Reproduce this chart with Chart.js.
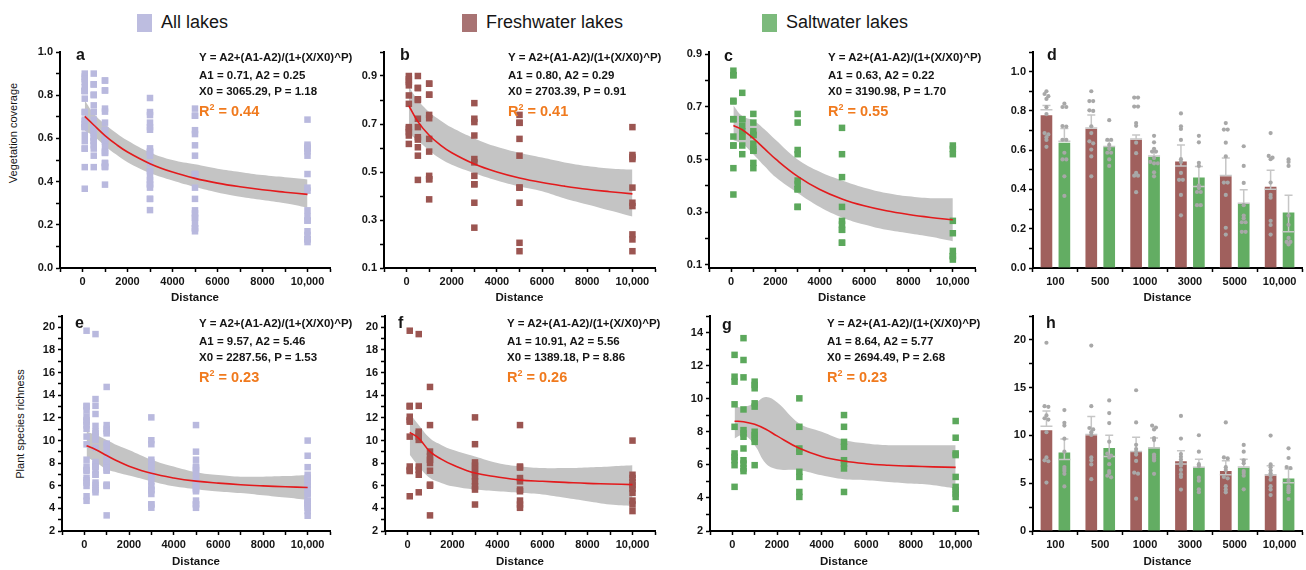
<!DOCTYPE html>
<html>
<head>
<meta charset="utf-8">
<script src="https://cdn.jsdelivr.net/npm/chart.js@4.4.1/dist/chart.umd.min.js"></script>
<style>
  body { margin: 0; width: 1306px; height: 570px; overflow: hidden; background: #fff; position: relative;
         font-family: "Liberation Sans", Arial, sans-serif; }
  canvas { position: absolute; }
  .t { position: absolute; white-space: nowrap; color: #151515; transform: translateY(-50%); line-height: 1.1; }
  .eq { font-size: 11.5px; font-weight: bold; }
  .r2 { font-size: 14.5px; font-weight: bold; color: #f07a1e; }
  .let { font-size: 16px; font-weight: bold; }
  .ytitle { position: absolute; white-space: nowrap; font-size: 11px; color: #151515;
            transform: translate(-50%, -50%) rotate(-90deg); }
  .leg { position: absolute; top: 13px; height: 19px; display: flex; align-items: center; font-size: 18px; color: #151515; }
  .leg i { display: inline-block; width: 15px; height: 18px; margin-right: 9px; }
</style>
</head>
<body>
<div class="leg" style="left:137px"><i style="background:#bdbde0"></i>All lakes</div>
<div class="leg" style="left:462px"><i style="background:#a87373"></i>Freshwater lakes</div>
<div class="leg" style="left:762px"><i style="background:#7cba7c"></i>Saltwater lakes</div>
<div class="ytitle" style="left:13px; top:133px">Vegetation coverage</div>
<div class="ytitle" style="left:20px; top:424px">Plant species richness</div>
<script>
// ---- data ----
const distances = [100, 500, 1000, 3000, 5000, 10000];
const distanceLabels = ['100', '500', '1000', '3000', '5000', '10,000'];

// vegetation coverage per lake, one list per distance
const freshCover = [
  [0.90, 0.886, 0.875, 0.861, 0.819, 0.784, 0.687, 0.680, 0.666, 0.652, 0.617],
  [0.90, 0.85, 0.85, 0.803, 0.80, 0.722, 0.687, 0.645, 0.635, 0.603, 0.568, 0.467],
  [0.868, 0.868, 0.822, 0.822, 0.738, 0.724, 0.638, 0.585, 0.484, 0.47, 0.47, 0.386],
  [0.787, 0.722, 0.708, 0.652, 0.554, 0.54, 0.484, 0.449, 0.449, 0.372, 0.268],
  [0.738, 0.705, 0.705, 0.638, 0.568, 0.435, 0.435, 0.372, 0.205, 0.170],
  [0.687, 0.571, 0.562, 0.554, 0.435, 0.372, 0.358, 0.24, 0.219, 0.17]
];
const saltCover = [
  [0.837, 0.82, 0.82, 0.723, 0.72, 0.653, 0.653, 0.587, 0.553, 0.553, 0.467, 0.367],
  [0.753, 0.653, 0.653, 0.627, 0.607, 0.587, 0.587, 0.553, 0.52],
  [0.673, 0.64, 0.607, 0.593, 0.593, 0.56, 0.54, 0.533, 0.533, 0.487, 0.467],
  [0.673, 0.64, 0.536, 0.52, 0.42, 0.407, 0.387, 0.387, 0.32, 0.32],
  [0.62, 0.52, 0.433, 0.32, 0.267, 0.253, 0.233, 0.233, 0.184, 0.184],
  [0.553, 0.54, 0.52, 0.267, 0.22, 0.153, 0.133, 0.133, 0.12]
];

// plant species richness per lake
const freshRich = [
  [19.7, 13.06, 13.0, 12.1, 11.8, 11.66, 10.34, 7.7, 7.4, 7.3, 5.07],
  [19.4, 13.06, 10.78, 10.63, 10.34, 10.05, 7.7, 7.4, 6.97, 5.42],
  [14.73, 11.36, 9.02, 8.58, 8.29, 8.0, 7.33, 6.1, 6.0, 3.38],
  [12.04, 9.67, 8.06, 7.77, 7.47, 7.18, 6.83, 6.39, 5.95, 5.66, 4.34],
  [11.36, 7.7, 7.6, 6.68, 6.39, 5.66, 5.51, 4.69, 4.34, 4.05],
  [9.99, 6.97, 6.68, 6.33, 6.04, 5.75, 5.37, 4.69, 4.34, 3.76]
];
const saltRich = [
  [12.65, 11.33, 11.03, 9.66, 8.30, 6.69, 6.48, 6.28, 5.98, 4.67],
  [13.66, 12.34, 11.29, 9.35, 8.1, 7.9, 7.7, 6.99, 6.28, 6.08, 5.78, 5.62],
  [11.03, 10.83, 10.63, 9.72, 9.52, 8.0, 7.8, 7.6, 7.39, 5.98],
  [10.02, 8.30, 6.99, 6.79, 5.58, 5.27, 4.36, 4.06],
  [9.01, 8.30, 7.39, 7.09, 6.28, 6.08, 5.78, 4.36],
  [8.65, 7.64, 6.69, 6.59, 5.27, 4.67, 4.46, 4.26, 4.06, 3.35]
];

// fitted curves and their confidence bands
const fitX = [100, 500, 1000, 1500, 2000, 3000, 4000, 5000, 6000, 7000, 8000, 9000, 10000];
const fitA = [0.702, 0.662, 0.613, 0.572, 0.537, 0.483, 0.444, 0.415, 0.393, 0.376, 0.362, 0.351, 0.341];
const upA  = [0.775, 0.715, 0.665, 0.625, 0.59, 0.535, 0.50, 0.48, 0.46, 0.445, 0.43, 0.42, 0.41];
const loA  = [0.635, 0.61, 0.565, 0.525, 0.49, 0.44, 0.405, 0.375, 0.35, 0.33, 0.315, 0.30, 0.28];
const fitB = [0.776, 0.710, 0.653, 0.612, 0.580, 0.533, 0.500, 0.475, 0.456, 0.441, 0.428, 0.418, 0.409];
const upB  = [0.855, 0.80, 0.75, 0.715, 0.685, 0.64, 0.605, 0.58, 0.56, 0.54, 0.525, 0.515, 0.51];
const loB  = [0.66, 0.63, 0.59, 0.555, 0.53, 0.495, 0.465, 0.44, 0.42, 0.39, 0.365, 0.34, 0.315];
const fitC = [0.629, 0.613, 0.580, 0.541, 0.502, 0.436, 0.386, 0.350, 0.324, 0.305, 0.291, 0.280, 0.271];
const upC  = [0.705, 0.665, 0.648, 0.615, 0.575, 0.50, 0.453, 0.42, 0.393, 0.373, 0.36, 0.353, 0.353];
const loC  = [0.573, 0.56, 0.52, 0.475, 0.433, 0.373, 0.32, 0.28, 0.253, 0.233, 0.22, 0.207, 0.19];
const fitE = [9.54, 9.20, 8.67, 8.16, 7.73, 7.10, 6.69, 6.41, 6.23, 6.09, 5.99, 5.91, 5.85];
const upE  = [10.8, 10.5, 10.05, 9.55, 9.15, 8.3, 7.7, 7.2, 6.95, 6.8, 6.8, 6.85, 6.95];
const loE  = [8.55, 8.1, 7.45, 7.15, 6.9, 6.4, 5.95, 5.7, 5.5, 5.35, 5.15, 4.95, 4.75];
const fitF = [10.72, 10.19, 9.02, 8.35, 7.85, 7.12, 6.77, 6.5, 6.39, 6.3, 6.21, 6.16, 6.1];
const upF  = [12.4, 11.36, 10.19, 9.6, 9.17, 8.58, 8.0, 7.7, 7.56, 7.56, 7.62, 7.7, 7.8];
const loF  = [8.73, 7.7, 6.68, 6.25, 5.95, 5.66, 5.51, 5.37, 5.22, 4.93, 4.63, 4.34, 4.2];
const fitG = [8.64, 8.61, 8.45, 8.15, 7.75, 7.0, 6.51, 6.23, 6.07, 5.98, 5.92, 5.88, 5.85];
const upG  = [9.52, 9.5, 9.72, 10.1, 9.78, 8.5, 8.0, 7.5, 7.29, 7.19, 7.19, 7.19, 7.19];
const loG  = [7.6, 7.8, 7.19, 6.08, 5.74, 5.68, 5.37, 5.13, 5.07, 4.97, 4.87, 4.77, 4.57];

// bar heights and error bars (line inside/at bar, cap)
const coverFreshMean = [0.781, 0.713, 0.657, 0.546, 0.471, 0.417];
const coverFreshMid  = [0.806, 0.713, 0.657, 0.519, 0.471, 0.401];
const coverFreshCap  = [0.828, 0.779, 0.677, 0.626, 0.56, 0.498];
const coverSaltMean  = [0.641, 0.619, 0.570, 0.464, 0.330, 0.286];
const coverSaltMid   = [0.645, 0.619, 0.570, 0.415, 0.330, 0.185];
const coverSaltCap   = [0.71, 0.648, 0.593, 0.517, 0.398, 0.371];
const richFreshMean  = [10.61, 10.09, 8.33, 7.37, 6.35, 5.89];
const richFreshMid   = [10.97, 10.09, 8.33, 7.02, 5.89, 5.89];
const richFreshCap   = [12.56, 11.99, 9.81, 8.39, 7.34, 6.84];
const richSaltMean   = [8.29, 8.75, 8.82, 6.67, 6.70, 5.57];
const richSaltMid    = [7.48, 7.80, 8.68, 6.67, 6.70, 5.04];
const richSaltCap    = [9.63, 10.02, 9.74, 7.51, 7.51, 6.49];

// axis ticks
const distTicks = [-1000, 0, 1000, 2000, 3000, 4000, 5000, 6000, 7000, 8000, 9000, 10000, 11000];
const distTickLabels = {0: '0', 2000: '2000', 4000: '4000', 6000: '6000', 8000: '8000', 10000: '10,000'};
const coverLabelsEven = [0, 0.2, 0.4, 0.6, 0.8, 1.0];
const coverLabelsOdd = [0.1, 0.3, 0.5, 0.7, 0.9];
const richLabels = [2, 4, 6, 8, 10, 12, 14, 16, 18, 20];
const richBarLabels = [0, 5, 10, 15, 20];

// ---- drawing ----
const FONT = '"Liberation Sans", Arial, sans-serif';
const colAll = '#b9b9de', colFresh = '#9b5551', colSalt = '#5ca85c';
const barFresh = '#a0605d', barSalt = '#63ad63';

function addText(cls, x, y, html) {
  const d = document.createElement('div');
  d.className = 't ' + cls;
  d.style.left = x + 'px';
  d.style.top = y + 'px';
  d.innerHTML = html;
  document.body.appendChild(d);
}

function makeCanvas(left, topPx, w, h) {
  const c = document.createElement('canvas');
  c.width = w; c.height = h;
  c.style.left = left + 'px'; c.style.top = topPx + 'px';
  document.body.appendChild(c);
  return c.getContext('2d');
}

function range(a, b, step) {
  const out = [];
  for (let v = a; v <= b + step / 1000; v += step) out.push(Math.round(v * 1000) / 1000);
  return out;
}

function yAxis(min, max, step, labels, width, digits) {
  return {
    type: 'linear', min: min, max: max,
    afterBuildTicks: s => { s.ticks = range(Math.ceil(min / step - 1e-6) * step, max, step).map(v => ({value: v})); },
    afterFit: s => { s.width = width; },
    grid: {display: true, drawOnChartArea: false, drawTicks: true, tickLength: 4, tickWidth: 1.5, color: '#000'},
    border: {display: true, color: '#000', width: 2},
    ticks: {
      autoSkip: false, padding: 3, color: '#151515', font: {family: FONT, size: 11, weight: 'bold'},
      callback: v => labels.some(l => Math.abs(l - v) < 1e-6) ? v.toFixed(digits) : ''
    }
  };
}

function xTitle() {
  return {display: true, text: 'Distance', color: '#151515', font: {family: FONT, size: 11.5, weight: 'bold'},
          padding: {top: 0, bottom: 5}};
}

function scatterPanel(box, groups, color, fit, up, lo, y) {
  const pts = [];
  groups.forEach((vals, i) => vals.forEach(v => pts.push({x: distances[i], y: v})));
  const line = arr => fitX.map((x, i) => ({x: x, y: arr[i]}));
  new Chart(makeCanvas(box.left, box.top, box.w, box.h), {
    type: 'scatter',
    data: {datasets: [
      {type: 'line', data: line(fit), borderColor: '#e31a1c', borderWidth: 1.6, pointRadius: 0, tension: 0.4, fill: false},
      {type: 'scatter', data: pts, backgroundColor: color, pointStyle: 'rect', pointRadius: 4.6, borderWidth: 0},
      {type: 'line', data: line(up), borderColor: 'rgba(0,0,0,0)', pointRadius: 0, tension: 0.4,
       fill: '+1', backgroundColor: '#c4c4c4'},
      {type: 'line', data: line(lo), borderColor: 'rgba(0,0,0,0)', pointRadius: 0, tension: 0.4, fill: false}
    ]},
    options: {
      responsive: false, animation: false, events: [],
      layout: {padding: {top: 12, right: box.pr, left: 0, bottom: 0}},
      plugins: {legend: {display: false}, tooltip: {enabled: false}},
      scales: {
        x: {
          type: 'linear', min: -1000, max: 11000,
          afterBuildTicks: s => { s.ticks = distTicks.map(v => ({value: v})); },
          afterFit: s => { s.height = box.xh; },
          grid: {display: true, drawOnChartArea: false, drawTicks: true, tickLength: 4, tickWidth: 1.5, color: '#000'},
          border: {display: true, color: '#000', width: 2},
          ticks: {autoSkip: false, maxRotation: 0, padding: 3, color: '#151515',
                  font: {family: FONT, size: 11, weight: 'bold'},
                  callback: v => distTickLabels[v] !== undefined ? distTickLabels[v] : ''},
          title: xTitle()
        },
        y: yAxis(y.min, y.max, y.step, y.labels, box.yw, y.digits)
      }
    }
  });
}

const errorBars = {
  id: 'errorBars',
  afterDatasetDraw(chart, args) {
    const ds = chart.data.datasets[args.index];
    if (!ds.errMid) return;
    const ctx = chart.ctx, xs = chart.scales.x, ys = chart.scales.y;
    ctx.save();
    ctx.strokeStyle = '#c6c6c6';
    ctx.lineWidth = 1.5;
    ds.data.forEach((p, i) => {
      const x = xs.getPixelForValue(p.x);
      const ym = ys.getPixelForValue(ds.errMid[i]);
      const yc = ys.getPixelForValue(ds.errCap[i]);
      ctx.beginPath();
      ctx.moveTo(x, ym); ctx.lineTo(x, yc);
      ctx.moveTo(x - 6, ym); ctx.lineTo(x + 6, ym);
      ctx.moveTo(x - 4, yc); ctx.lineTo(x + 4, yc);
      ctx.stroke();
    });
    ctx.restore();
  }
};

function swarm(groups, side, tol, gap) {
  const out = [];
  groups.forEach((vals, i) => {
    const c = i + side * 0.2;
    const s = vals.slice().sort((a, b) => b - a);
    let k = 0;
    while (k < s.length) {
      let j = k;
      while (j + 1 < s.length && s[k] - s[j + 1] <= tol) j++;
      const n = j - k + 1;
      for (let m = 0; m < n; m++) out.push({x: c + (m - (n - 1) / 2) * gap, y: s[k + m]});
      k = j + 1;
    }
  });
  return out;
}

function barPanel(box, fresh, salt, fm, fmid, fcap, sm, smid, scap, y, tol) {
  const dot = {type: 'scatter', backgroundColor: '#a8a8a8', pointStyle: 'circle', pointRadius: 2.1, borderWidth: 0};
  new Chart(makeCanvas(box.left, box.top, box.w, box.h), {
    type: 'bar',
    data: {datasets: [
      Object.assign({data: swarm(fresh, -1, tol, 0.085)}, dot),
      Object.assign({data: swarm(salt, 1, tol, 0.085)}, dot),
      {type: 'bar', data: fm.map((v, i) => ({x: i - 0.2, y: v})), backgroundColor: barFresh,
       borderColor: 'rgba(255,255,255,0.35)', borderWidth: 1, barThickness: 13, grouped: false,
       errMid: fmid, errCap: fcap},
      {type: 'bar', data: sm.map((v, i) => ({x: i + 0.2, y: v})), backgroundColor: barSalt,
       borderColor: 'rgba(255,255,255,0.35)', borderWidth: 1, barThickness: 13, grouped: false,
       errMid: smid, errCap: scap}
    ]},
    options: {
      responsive: false, animation: false, events: [],
      layout: {padding: {top: 12, right: box.pr, left: 0, bottom: 0}},
      plugins: {legend: {display: false}, tooltip: {enabled: false}},
      scales: {
        x: {
          type: 'linear', min: -0.5, max: 5.5, offset: false,
          afterBuildTicks: s => { s.ticks = distances.map((d, i) => ({value: i})); },
          afterFit: s => { s.height = box.xh; },
          grid: {display: true, drawOnChartArea: false, drawTicks: true, tickLength: 4, tickWidth: 1.5, color: '#000'},
          border: {display: true, color: '#000', width: 2},
          ticks: {autoSkip: false, maxRotation: 0, padding: 3, color: '#151515',
                  font: {family: FONT, size: 11, weight: 'bold'},
                  callback: v => distanceLabels[Math.round(v)]},
          title: xTitle()
        },
        y: yAxis(y.min, y.max, y.step, y.labels, box.yw, y.digits)
      }
    },
    plugins: [errorBars]
  });
}

const all = (f, s) => f.map((v, i) => v.concat(s[i]));
const rowTop = {top: 40, h: 270, xh: 42}, rowBot = {top: 304, h: 270, xh: 43};

scatterPanel(Object.assign({left: 0, w: 335, yw: 60, pr: 5}, rowTop), all(freshCover, saltCover), colAll, fitA, upA, loA,
             {min: 0, max: 1.0, step: 0.1, labels: coverLabelsEven, digits: 1});
scatterPanel(Object.assign({left: 335, w: 325, yw: 49, pr: 5}, rowTop), freshCover, colFresh, fitB, upB, loB,
             {min: 0.1, max: 1.0, step: 0.1, labels: coverLabelsOdd, digits: 1});
scatterPanel(Object.assign({left: 660, w: 320, yw: 49, pr: 5}, rowTop), saltCover, colSalt, fitC, upC, loC,
             {min: 0.088, max: 0.908, step: 0.1, labels: coverLabelsOdd, digits: 1});
barPanel(Object.assign({left: 985, w: 321, yw: 48, pr: 1}, rowTop), freshCover, saltCover,
         coverFreshMean, coverFreshMid, coverFreshCap, coverSaltMean, coverSaltMid, coverSaltCap,
         {min: 0, max: 1.1, step: 0.1, labels: coverLabelsEven, digits: 1}, 0.012);

scatterPanel(Object.assign({left: 0, w: 335, yw: 62, pr: 5}, rowBot), all(freshRich, saltRich), colAll, fitE, upE, loE,
             {min: 2, max: 21, step: 1, labels: richLabels, digits: 0});
scatterPanel(Object.assign({left: 335, w: 325, yw: 50, pr: 5}, rowBot), freshRich, colFresh, fitF, upF, loF,
             {min: 2, max: 21, step: 1, labels: richLabels, digits: 0});
scatterPanel(Object.assign({left: 660, w: 323, yw: 50, pr: 5}, rowBot), saltRich, colSalt, fitG, upG, loG,
             {min: 2, max: 15, step: 1, labels: richLabels, digits: 0});
barPanel(Object.assign({left: 985, w: 321, yw: 48, pr: 4}, rowBot), freshRich, saltRich,
         richFreshMean, richFreshMid, richFreshCap, richSaltMean, richSaltMid, richSaltCap,
         {min: 0, max: 22.5, step: 2.5, labels: richBarLabels, digits: 0}, 0.2);

// panel letters and fit annotations
[['a', 76, 55], ['b', 400, 55], ['c', 724, 56], ['d', 1047, 55],
 ['e', 75, 323], ['f', 398, 323], ['g', 722, 325], ['h', 1046, 323]].forEach(l => addText('let', l[1], l[2], l[0]));

const fits = [
  [199, 57, 'A1 = 0.71, A2 = 0.25', 'X0 = 3065.29, P = 1.18', '0.44'],
  [508, 57, 'A1 = 0.80, A2 = 0.29', 'X0 = 2703.39, P = 0.91', '0.41'],
  [828, 57, 'A1 = 0.63, A2 = 0.22', 'X0 = 3190.98, P = 1.70', '0.55'],
  [199, 323, 'A1 = 9.57, A2 = 5.46', 'X0 = 2287.56, P = 1.53', '0.23'],
  [507, 323, 'A1 = 10.91, A2 = 5.56', 'X0 = 1389.18, P = 8.86', '0.26'],
  [827, 323, 'A1 = 8.64, A2 = 5.77', 'X0 = 2694.49, P = 2.68', '0.23']
];
fits.forEach(f => {
  addText('eq', f[0], f[1], 'Y = A2+(A1-A2)/(1+(X/X0)^P)');
  addText('eq', f[0], f[1] + 18, f[2]);
  addText('eq', f[0], f[1] + 34, f[3]);
  addText('r2', f[0], f[1] + 54, 'R<sup style="font-size:9px;vertical-align:6px">2</sup> = ' + f[4]);
});
</script>
</body>
</html>
